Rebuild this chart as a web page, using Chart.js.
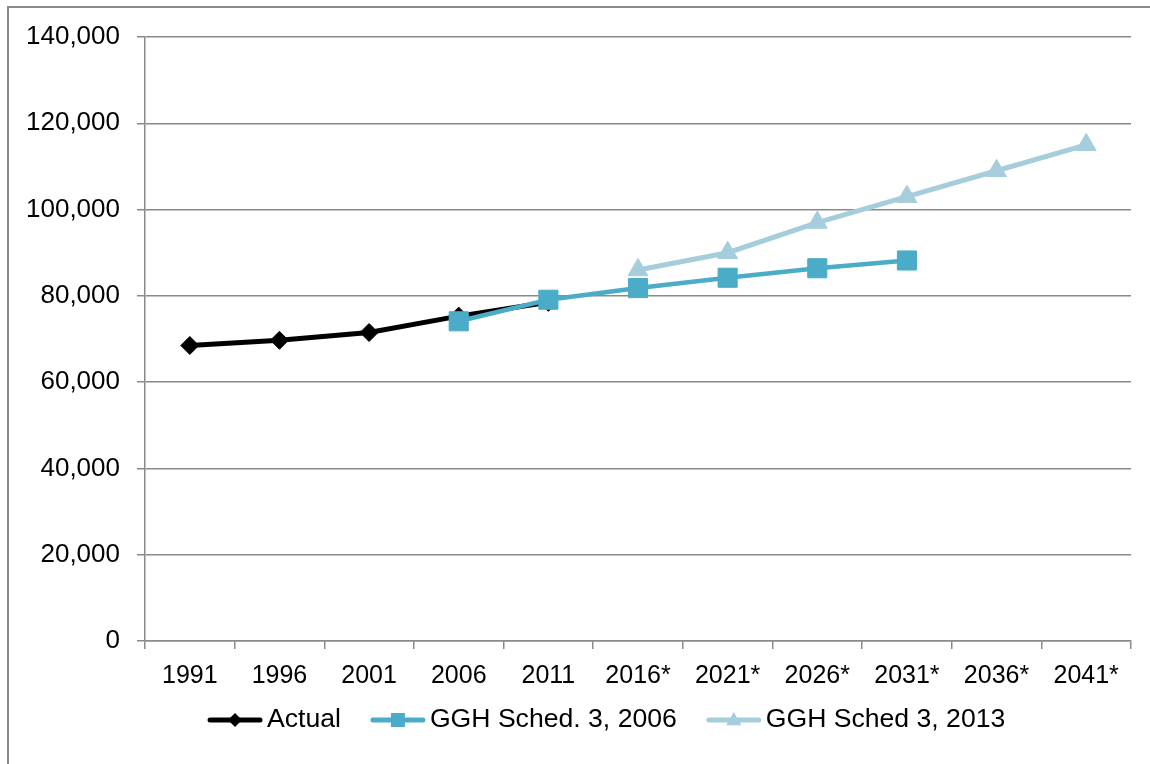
<!DOCTYPE html>
<html>
<head>
<meta charset="utf-8">
<script src="https://cdn.jsdelivr.net/npm/chart.js@4/dist/chart.umd.min.js"></script>
<style>
  html, body { margin: 0; padding: 0; background: #fff; }
  #wrap { width: 1150px; height: 764px; position: relative; }
</style>
</head>
<body>
<div id="wrap"><canvas id="popChart"></canvas></div>
<script>
// Population: actual counts and growth plan schedules
const years = ['1991', '1996', '2001', '2006', '2011', '2016*', '2021*', '2026*', '2031*', '2036*', '2041*'];
const actual = [68500, 69700, 71500, 75300, 78500, null, null, null, null, null, null];
const sched2006 = [null, null, null, 74100, 79100, 81800, 84200, 86400, 88200, null, null];
const sched2013 = [null, null, null, null, null, 86000, 90000, 97000, 103000, 109000, 115000];
const yTicks = [0, 20000, 40000, 60000, 80000, 100000, 120000, 140000];

const seriesNames = ['Actual', 'GGH Sched. 3, 2006', 'GGH Sched 3, 2013'];
const seriesColors = ['#000000', '#4aacc6', '#a5cddb'];
const GRID = '#8a8a8a';
const FONT = '"Liberation Sans", Arial, sans-serif';

// frame around the whole chart
const framePlugin = {
    id: 'frame',
    beforeDraw(chart) {
        const ctx = chart.ctx;
        ctx.save();
        ctx.strokeStyle = GRID;
        ctx.lineWidth = 2;
        ctx.beginPath();
        ctx.moveTo(8, chart.height);
        ctx.lineTo(8, 7);
        ctx.lineTo(chart.width, 7);
        ctx.stroke();
        ctx.restore();
    }
};

function drawMarker(ctx, style, x, y, r) {
    ctx.beginPath();
    if (style === 'rectRot') {
        ctx.moveTo(x - r, y); ctx.lineTo(x, y - r); ctx.lineTo(x + r, y); ctx.lineTo(x, y + r);
    } else if (style === 'rect') {
        ctx.rect(x - r, y - r, 2 * r, 2 * r);
    } else {
        ctx.moveTo(x, y - r); ctx.lineTo(x + r * 0.95, y + r * 0.65); ctx.lineTo(x - r * 0.95, y + r * 0.65);
    }
    ctx.closePath();
    ctx.fill();
}

// legend with line + marker samples, drawn under the axis
const lineLegend = {
    id: 'lineLegend',
    afterDraw(chart) {
        const ctx = chart.ctx;
        const styles = ['rectRot', 'rect', 'triangle'];
        const sizes = [7, 7, 8];
        ctx.save();
        ctx.font = '26.6px ' + FONT;
        ctx.textBaseline = 'middle';
        const sampleW = 54, gap = 5, spacing = 30;
        let x = 208;
        const y = 720;
        seriesNames.forEach((n, i) => {
            ctx.strokeStyle = seriesColors[i];
            ctx.fillStyle = seriesColors[i];
            ctx.lineWidth = 5;
            ctx.lineCap = 'round';
            ctx.beginPath();
            ctx.moveTo(x + 2, y);
            ctx.lineTo(x + sampleW - 2, y);
            ctx.stroke();
            drawMarker(ctx, styles[i], x + sampleW / 2, y, sizes[i]);
            x += sampleW + gap;
            ctx.fillStyle = '#000';
            ctx.fillText(n, x, y);
            x += ctx.measureText(n).width + spacing;
        });
        ctx.restore();
    }
};

const ctx = document.getElementById('popChart');
new Chart(ctx, {
    type: 'line',
    data: {
        labels: years,
        datasets: [
            {
                label: seriesNames[0],
                data: actual,
                borderColor: seriesColors[0],
                backgroundColor: seriesColors[0],
                borderWidth: 5,
                pointStyle: 'rectRot',
                pointRadius: 9,
                pointBorderWidth: 1,
                tension: 0,
                order: 3
            },
            {
                label: seriesNames[1],
                data: sched2006,
                borderColor: seriesColors[1],
                backgroundColor: seriesColors[1],
                borderWidth: 4.5,
                pointStyle: 'rect',
                pointRadius: 13.5,
                pointBorderWidth: 1,
                tension: 0,
                order: 2
            },
            {
                label: seriesNames[2],
                data: sched2013,
                borderColor: seriesColors[2],
                backgroundColor: seriesColors[2],
                borderWidth: 5,
                pointStyle: 'triangle',
                pointRadius: 11.5,
                pointBorderWidth: 1,
                tension: 0,
                order: 1
            }
        ]
    },
    options: {
        responsive: true,
        maintainAspectRatio: false,
        animation: false,
        layout: { padding: { top: 37, right: 19, left: 0, bottom: 0 } },
        plugins: {
            legend: { display: false },
            tooltip: { enabled: false }
        },
        scales: {
            x: {
                offset: true,
                grid: {
                    offset: true,
                    drawOnChartArea: false,
                    color: GRID,
                    lineWidth: 1.5,
                    tickLength: 8
                },
                border: { color: GRID, width: 1.5 },
                ticks: {
                    color: '#000',
                    padding: 12,
                    maxRotation: 0,
                    autoSkip: false,
                    font: { family: FONT, size: 25 }
                },
                afterFit(scale) { scale.height = 123; }
            },
            y: {
                min: 0,
                max: 140000,
                afterBuildTicks(scale) { scale.ticks = yTicks.map(v => ({ value: v })); },
                grid: { color: GRID, lineWidth: 1.5, tickLength: 8 },
                border: { color: GRID, width: 1.5 },
                ticks: {
                    color: '#000',
                    padding: 17,
                    font: { family: FONT, size: 26 },
                    callback: v => v.toLocaleString('en-US')
                },
                afterFit(scale) { scale.width = 145; }
            }
        }
    },
    plugins: [framePlugin, lineLegend]
});
</script>
</body>
</html>
